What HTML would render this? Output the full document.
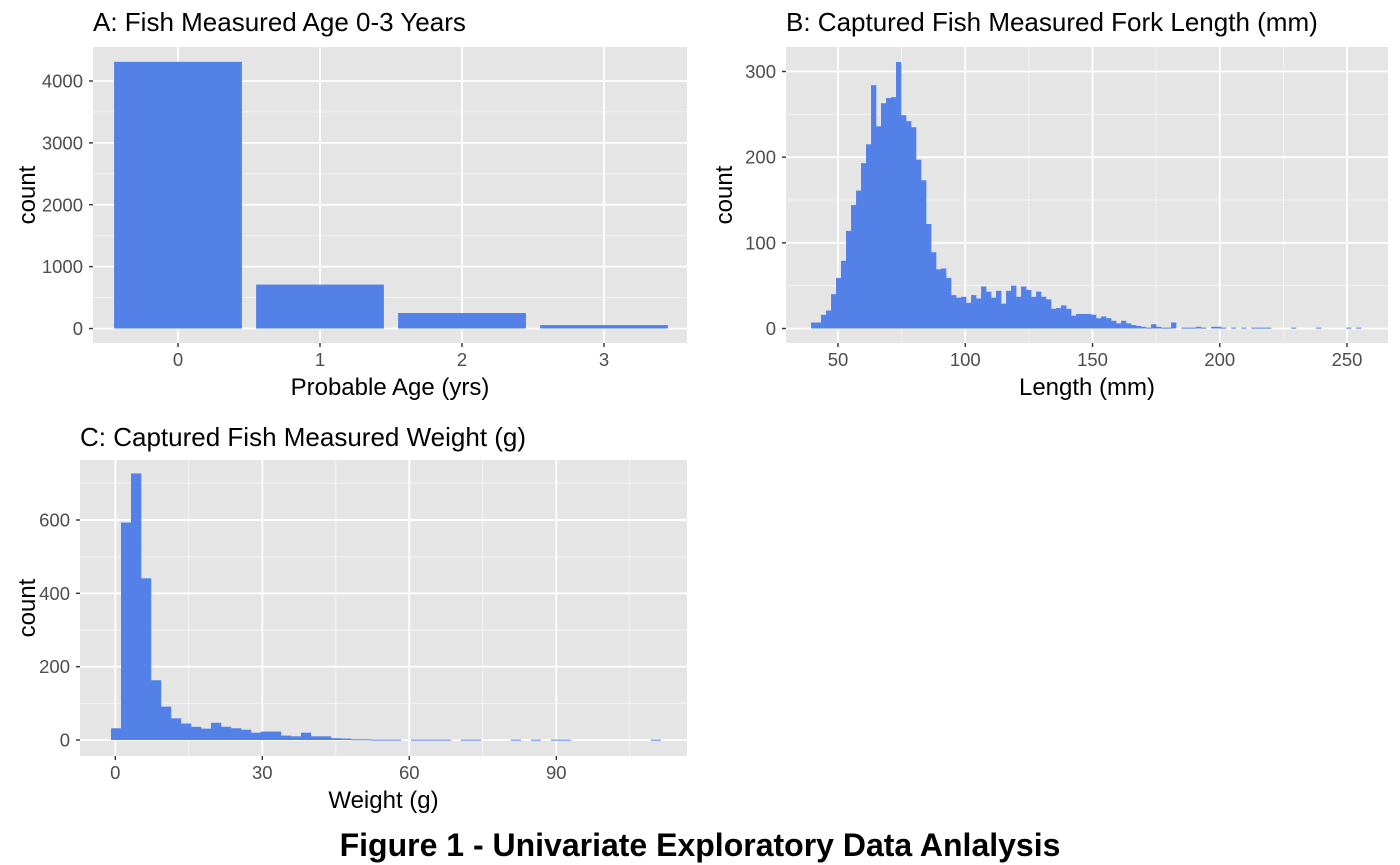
<!DOCTYPE html>
<html><head><meta charset="utf-8">
<style>
html,body{margin:0;padding:0;background:#fff;}
svg{display:block;font-family:"Liberation Sans",Arial,sans-serif;}
.tick{fill:#4d4d4d;font-size:18.5px;}
.ttl{fill:#000;font-size:26px;}
.axt{fill:#000;font-size:24px;}
</style></head>
<body>
<svg id="fig" width="1400" height="865" viewBox="0 0 1400 865" xmlns="http://www.w3.org/2000/svg">
<text class="ttl" x="93" y="31">A: Fish Measured Age 0-3 Years</text>
<text class="ttl" x="786" y="31">B: Captured Fish Measured Fork Length (mm)</text>
<text class="ttl" x="80" y="446">C: Captured Fish Measured Weight (g)</text>
<text x="700" y="856" text-anchor="middle" style="font-size:32px;font-weight:bold">Figure 1 - Univariate Exploratory Data Anlalysis</text>
</svg>
<script>
// Panel A data
const ageCategories = ["0","1","2","3"];
const ageCounts = [4310, 710, 250, 55];
const ageYTicks = [0,1000,2000,3000,4000];
// Panel B data (length histogram, bin start 39.4 mm, width 1.965 mm)
const lenBinStart = 39.4;
const lenBinWidth = 1.965;
const lenCounts = [7,7,16,21,40,59,79,114,144,161,193,215,284,236,263,269,270,311,249,242,235,197,173,122,89,69,70,59,39,36,37,30,39,35,49,43,36,44,29,44,50,37,49,45,37,43,37,34,23,24,27,23,15,17,17,17,16,12,14,12,9,6,9,6,4,3,2,1,5,2,1,1,7,0,1,1,1,2,1,0,2,2,1,0,1,0,1,0,1,1,1,1,0,0,0,0,1,0,0,0,0,1,0,0,0,0,0,1,0,1];
const lenXTicks = [50,100,150,200,250];
const lenYTicks = [0,100,200,300];
// Panel C data (weight histogram, bin start -0.88 g, width 2.04 g)
const wBinStart = -0.88;
const wBinWidth = 2.04;
const wCounts = [32,593,727,441,163,91,59,45,36,31,47,36,32,28,20,23,23,12,10,20,10,10,5,4,2,2,1,1,1,0,1,1,1,1,0,1,1,0,0,0,1,0,1,0,1,1,0,0,0,0,0,0,0,0,1];
const wXTicks = [0,30,60,90];
const wYTicks = [0,200,400,600];

const NS="http://www.w3.org/2000/svg";
const svg=document.getElementById('fig');
const BAR="#5381E8";
function mk(tag,attrs,parent){const e=document.createElementNS(NS,tag);for(const k in attrs)e.setAttribute(k,attrs[k]);(parent||svg).appendChild(e);return e;}
function lin(d0,d1,r0,r1){return v=>r0+(v-d0)*(r1-r0)/(d1-d0);}

function panel(id,box,xs,ys,xTicks,xMinor,yTicks,yMinor,xLab,xTitle,yTitle,ytx){
  const g=mk('g',{});
  
  
  const bg=mk('rect',{x:box.x0,y:box.y0,width:box.x1-box.x0,height:box.y1-box.y0,fill:'#E5E5E5'},g);
  
  
  yMinor.forEach(v=>{mk('line',{x1:box.x0,x2:box.x1,y1:ys(v),y2:ys(v),stroke:'#f5f5f5','stroke-width':0.9},g);});
  xMinor.forEach(v=>{mk('line',{y1:box.y0,y2:box.y1,x1:xs(v),x2:xs(v),stroke:'#f5f5f5','stroke-width':0.9},g);});
  yTicks.forEach(v=>{
    mk('line',{x1:box.x0,x2:box.x1,y1:ys(v),y2:ys(v),stroke:'#fff','stroke-width':1.8},g);
    mk('line',{x1:box.x0-4,x2:box.x0,y1:ys(v),y2:ys(v),stroke:'#333','stroke-width':1.4},g);
    const t=mk('text',{x:box.x0-10,y:ys(v)+6.5,'text-anchor':'end',class:'tick'},g);t.textContent=v;
    
    
  });
  xTicks.forEach((v,i)=>{
    mk('line',{y1:box.y0,y2:box.y1,x1:xs(v),x2:xs(v),stroke:'#fff','stroke-width':1.8},g);
    mk('line',{y1:box.y1,y2:box.y1+4,x1:xs(v),x2:xs(v),stroke:'#333','stroke-width':1.4},g);
    const t=mk('text',{x:xs(v),y:box.y1+23,'text-anchor':'middle',class:'tick'},g);t.textContent=xLab?xLab[i]:v;
    
    
  });
  const xt=mk('text',{x:(box.x0+box.x1)/2,y:box.y1+52,'text-anchor':'middle',class:'axt'},g);xt.textContent=xTitle;
  
  
  const cy=(box.y0+box.y1)/2, cx=ytx;
  const yt=mk('text',{x:cx,y:cy,'text-anchor':'middle',class:'axt',transform:`rotate(-90 ${cx} ${cy})`},g);yt.textContent=yTitle;
  
  
  return g;
}

// Panel A
(function(){
  const box={x0:93,x1:687,y0:47,y1:343};
  const ys=lin(0,4000,328.5,81);
  const xs=lin(0,3,178,604);
  const g=panel('panel-a',box,xs,ys,[0,1,2,3],[],ageYTicks,[500,1500,2500,3500],ageCategories,'Probable Age (yrs)','count',35);
  const bw=0.9*(xs(1)-xs(0));
  ageCounts.forEach((c,i)=>{
    const r=mk('rect',{x:xs(i)-bw/2,y:ys(c),width:bw,height:ys(0)-ys(c),fill:BAR},g);
    
    
  });
})();

// Panel B
(function(){
  const box={x0:786,x1:1388,y0:47,y1:343};
  const ys=lin(0,300,328.5,71.5);
  const xs=lin(50,250,838,1347);
  const g=panel('panel-b',box,xs,ys,lenXTicks,[75,125,175,225],lenYTicks,[50,150,250],null,'Length (mm)','count',732);
  lenCounts.forEach((c,i)=>{
    if(c<=0)return;
    const a=lenBinStart+i*lenBinWidth;
    const r=mk('rect',{x:xs(a),y:ys(c),width:xs(a+lenBinWidth)-xs(a)+0.3,height:Math.max(ys(0)-ys(c),1),fill:BAR},g);
    
    
  });
})();

// Panel C
(function(){
  const box={x0:80,x1:687,y0:460,y1:756};
  const ys=lin(0,600,740,520);
  const xs=lin(0,30,115.3,262.3);
  const g=panel('panel-c',box,xs,ys,wXTicks,[15,45,75,105],wYTicks,[100,300,500,700],null,'Weight (g)','count',35);
  wCounts.forEach((c,i)=>{
    if(c<=0)return;
    const a=wBinStart+i*wBinWidth;
    const r=mk('rect',{x:xs(a),y:ys(c),width:xs(a+wBinWidth)-xs(a)+0.3,height:Math.max(ys(0)-ys(c),1),fill:BAR},g);
    
    
  });
})();
svg.querySelectorAll('text.ttl').forEach(e=>svg.appendChild(e));
</script>
</body></html>
